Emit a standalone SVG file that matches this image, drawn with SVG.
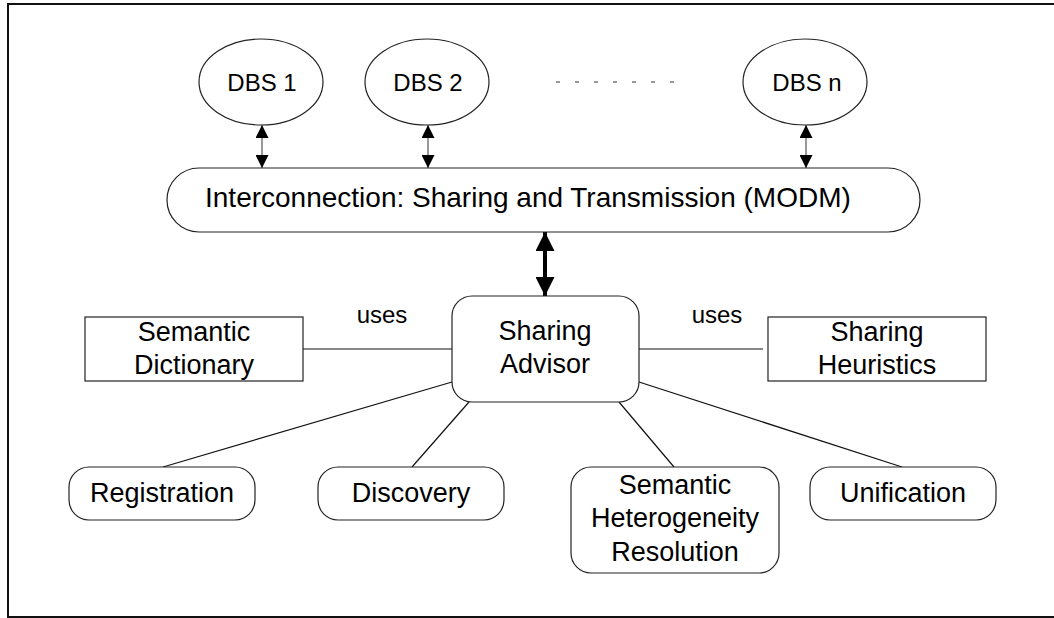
<svg xmlns="http://www.w3.org/2000/svg" width="1054" height="618" viewBox="0 0 1054 618">
<style>
.t{font-family:"Liberation Sans",Arial,sans-serif;fill:#000;text-anchor:middle}
.s24{font-size:24px}
.s27{font-size:27px}
.shape{fill:#fff;stroke:#222;stroke-width:1.2}
.ln{stroke:#111;stroke-width:1.2;fill:none}
</style>
<defs>
<marker id="ah" markerUnits="userSpaceOnUse" markerWidth="13" markerHeight="13" refX="13" refY="6.5" orient="auto-start-reverse" viewBox="0 0 13 13">
<path d="M0,0 L13,6.5 L0,13 z" fill="#000"/>
</marker>
<marker id="ahb" markerUnits="userSpaceOnUse" markerWidth="19" markerHeight="19" refX="19" refY="9.5" orient="auto-start-reverse" viewBox="0 0 19 19">
<path d="M0,0 L19,9.5 L0,19 z" fill="#000"/>
</marker>
</defs>
<rect id="frame" x="8" y="4" width="1070" height="613" fill="#fff" stroke="#111" stroke-width="2"/>
<g id="connectors">
<line x1="262" y1="125" x2="262" y2="168" stroke="#555" stroke-width="1.2" marker-start="url(#ah)" marker-end="url(#ah)"/>
<line x1="428" y1="125" x2="428" y2="168" stroke="#555" stroke-width="1.2" marker-start="url(#ah)" marker-end="url(#ah)"/>
<line x1="806" y1="125" x2="806" y2="168" stroke="#555" stroke-width="1.2" marker-start="url(#ah)" marker-end="url(#ah)"/>
<line x1="545" y1="232" x2="545" y2="296" stroke="#000" stroke-width="4" marker-start="url(#ahb)" marker-end="url(#ahb)"/>
<line class="ln" x1="303" y1="349" x2="452" y2="349"/>
<line class="ln" x1="639" y1="349" x2="763" y2="349"/>
<line class="ln" x1="163" y1="467" x2="452" y2="382"/>
<line class="ln" x1="412" y1="467" x2="469" y2="402"/>
<line class="ln" x1="674" y1="467" x2="619" y2="402"/>
<line class="ln" x1="902" y1="467" x2="639" y2="382"/>
<text class="t s24" x="382" y="323">uses</text>
<text class="t s24" x="717" y="323">uses</text>
</g>
<g id="dbs1">
<ellipse class="shape" cx="261" cy="82" rx="62" ry="43"/>
<text class="t s24" x="262" y="91">DBS 1</text>
</g>
<g id="dbs2">
<ellipse class="shape" cx="427" cy="82" rx="62" ry="43"/>
<text class="t s24" x="428" y="91">DBS 2</text>
</g>
<g id="ellipsis">
<line x1="556" y1="82" x2="676" y2="82" stroke="#333" stroke-width="1" stroke-dasharray="4 15"/>
</g>
<g id="dbsn">
<ellipse class="shape" cx="805" cy="82" rx="62" ry="43"/>
<text class="t s24" x="807" y="91">DBS n</text>
</g>
<g id="interconnection">
<rect class="shape" x="167" y="168" width="753" height="64" rx="32" ry="32"/>
<text class="t" x="205" y="207" style="font-size:28px;text-anchor:start">Interconnection: Sharing and Transmission (MODM)</text>
</g>
<g id="advisor">
<rect class="shape" x="452" y="296" width="187" height="106" rx="20" ry="20"/>
<text class="t s27" x="545" y="340">Sharing</text>
<text class="t s27" x="545" y="373">Advisor</text>
</g>
<g id="dictionary">
<rect class="shape" x="85" y="317" width="218" height="64"/>
<text class="t s27" x="194" y="341">Semantic</text>
<text class="t s27" x="194" y="374">Dictionary</text>
</g>
<g id="heuristics">
<rect class="shape" x="768" y="317" width="218" height="64"/>
<text class="t s27" x="877" y="341">Sharing</text>
<text class="t s27" x="877" y="374">Heuristics</text>
</g>
<g id="registration">
<rect class="shape" x="69" y="467" width="186" height="53" rx="20" ry="20"/>
<text class="t s27" x="162" y="502">Registration</text>
</g>
<g id="discovery">
<rect class="shape" x="318" y="467" width="186" height="53" rx="20" ry="20"/>
<text class="t s27" x="411" y="502">Discovery</text>
</g>
<g id="shr">
<rect class="shape" x="571" y="467" width="208" height="106" rx="20" ry="20"/>
<text class="t s27" x="675" y="494">Semantic</text>
<text class="t s27" x="675" y="527">Heterogeneity</text>
<text class="t s27" x="675" y="561">Resolution</text>
</g>
<g id="unification">
<rect class="shape" x="810" y="467" width="186" height="53" rx="20" ry="20"/>
<text class="t s27" x="903" y="502">Unification</text>
</g>
</svg>
